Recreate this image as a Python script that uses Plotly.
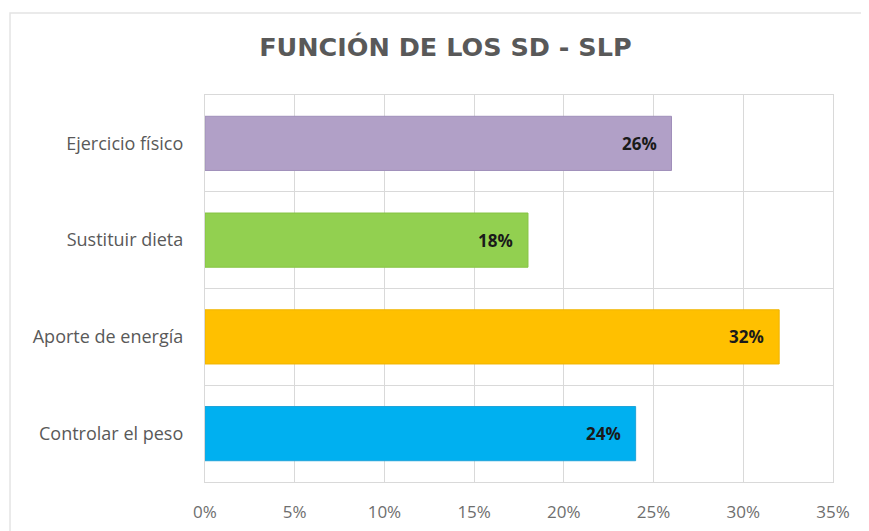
import plotly.graph_objects as go

categories = ["Controlar el peso", "Aporte de energía", "Sustituir dieta", "Ejercicio físico"]
values = [0.24, 0.32, 0.18, 0.26]
bar_colors = ["#00B0F0", "#FFC000", "#92D050", "#B1A0C7"]
edge_colors = ["#1FA3D9", "#F0B400", "#86C443", "#A08FBA"]
x_ticks = [0, 0.05, 0.10, 0.15, 0.20, 0.25, 0.30, 0.35]
x_ticklabels = ["0%", "5%", "10%", "15%", "20%", "25%", "30%", "35%"]
title = "FUNCIÓN DE LOS SD - SLP"

grid = "#D9D9D9"
x_font = dict(family="'Open Sans', sans-serif", size=17, color="#6E6E6E")
y_font = dict(family="'Open Sans', sans-serif", size=18, color="#595959")

fig = go.Figure()
fig.add_trace(go.Bar(
    y=categories, x=values, orientation="h",
    marker=dict(color=bar_colors, line=dict(color=edge_colors, width=1)),
    width=0.56, hoverinfo="skip",
))

for c, v in zip(categories, values):
    fig.add_annotation(
        x=v, y=c, text=f"<b>{round(v*100)}%</b>", showarrow=False,
        xanchor="right", xshift=-13,
        font=dict(family="'Open Sans', sans-serif", size=17, color="#1A1A1A"),
    )

fig.update_layout(
    width=861, height=523,
    paper_bgcolor="white", plot_bgcolor="white",
    margin=dict(l=197, r=36, t=87, b=49),
    showlegend=False,
    title=dict(text=f"<b>{title}</b>", x=0.508, xanchor="center", y=0.925, yanchor="middle",
               font=dict(family="'DejaVu Sans', sans-serif", size=25.5, color="#595959")),
    xaxis=dict(range=[0, 0.35], tickvals=x_ticks, ticktext=x_ticklabels,
               showgrid=True, gridcolor=grid, gridwidth=1.3, zeroline=False,
               showline=True, linecolor=grid, mirror=True, linewidth=1.3, automargin=False,
               ticks="", ticklabelstandoff=14, tickfont=x_font, fixedrange=True),
    yaxis=dict(type="category", categoryorder="array", categoryarray=categories,
               tickson="boundaries", showgrid=True, gridcolor=grid, gridwidth=1.3,
               showline=True, linecolor=grid, mirror=True, linewidth=1.3, automargin=False,
               ticks="", ticklabelstandoff=17, tickfont=y_font, fixedrange=True),
    shapes=[dict(type="rect", xref="paper", yref="paper", x0=-0.3105, x1=1.07, y0=-0.3, y1=1.212,
                 line=dict(color="#E4E4E4", width=1.5), fillcolor="rgba(0,0,0,0)", layer="below")],
)

fig.write_html("out.html")
